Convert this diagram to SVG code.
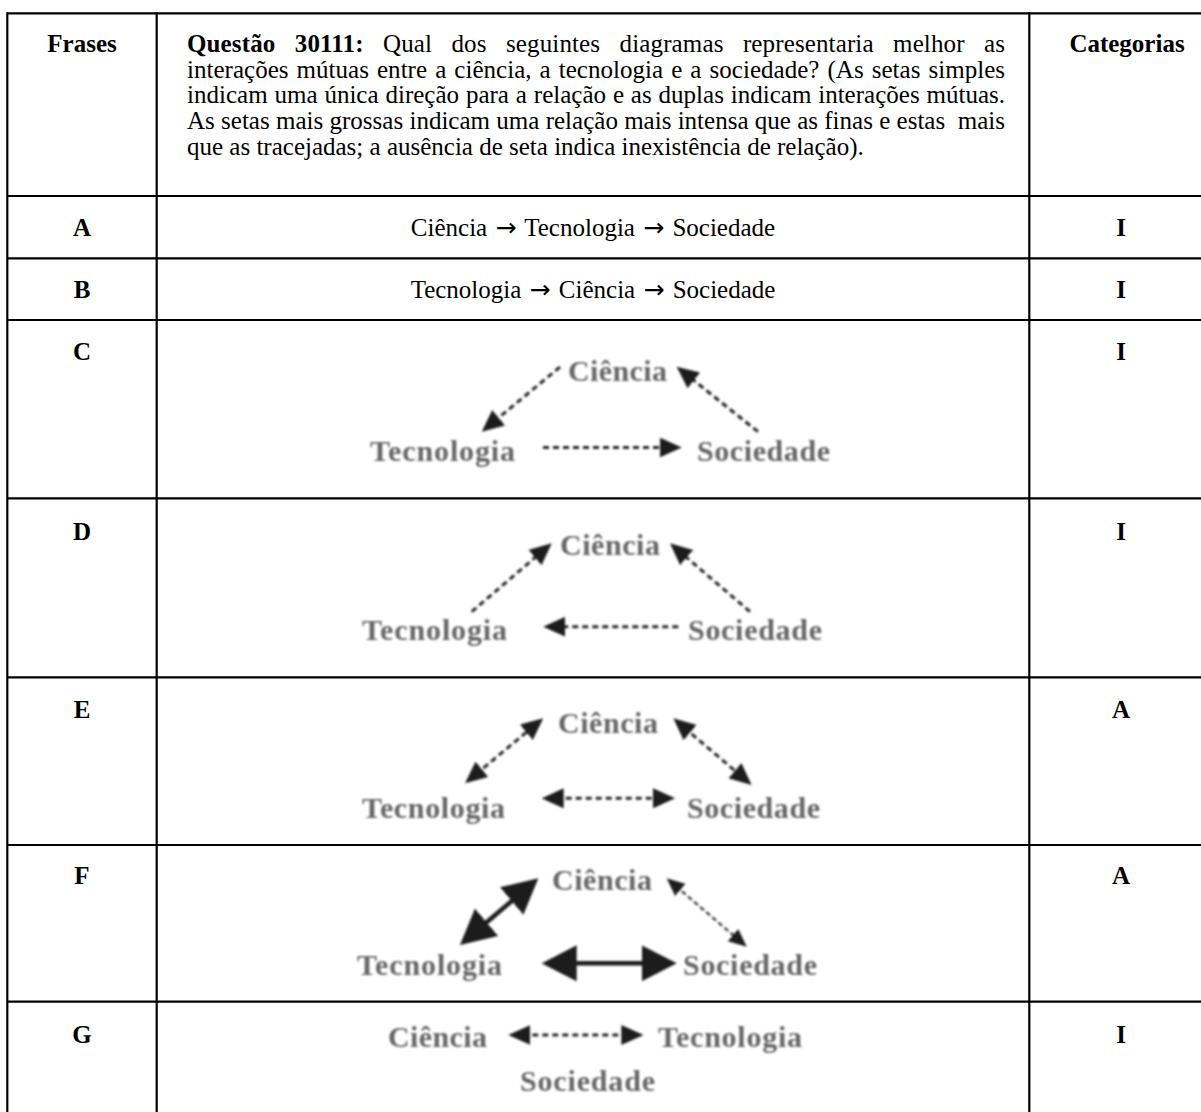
<svg xmlns="http://www.w3.org/2000/svg" width="1201" height="1112" viewBox="0 0 1201 1112">
<style>
.grid line{stroke:#000;stroke-width:2.2}
.t{font-family:"Liberation Serif","Times New Roman",serif;font-size:25px;fill:#000}
.b{font-weight:bold}
.m{text-anchor:middle}
.ar{font-family:"DejaVu Sans",sans-serif;font-size:25px}
.d{font-family:"Liberation Serif","Times New Roman",serif;font-weight:bold;font-size:30px;fill:#666;filter:url(#soft)}
.ds{stroke:#2a2a2a;stroke-width:3;stroke-dasharray:6 4;fill:none;filter:url(#soft)}
.dt{stroke:#2a2a2a;stroke-width:2;stroke-dasharray:5 3;fill:none;filter:url(#soft)}
.th{stroke:#1a1a1a;stroke-width:4.5;fill:none;filter:url(#soft)}
</style>
<defs>
<filter id="soft" filterUnits="userSpaceOnUse" x="0" y="0" width="1201" height="1112"><feGaussianBlur stdDeviation="0.8"/></filter>
<marker id="ah" markerUnits="userSpaceOnUse" viewBox="0 0 22 20" markerWidth="22" markerHeight="20" refX="8" refY="10" orient="auto-start-reverse"><path d="M0,0 L22,10 L0,20 z" fill="#1e1e1e"/></marker>
<marker id="ahS" markerUnits="userSpaceOnUse" viewBox="0 0 18 16" markerWidth="18" markerHeight="16" refX="6" refY="8" orient="auto-start-reverse"><path d="M0,0 L18,8 L0,16 z" fill="#1e1e1e"/></marker>
<marker id="ahB" markerUnits="userSpaceOnUse" viewBox="0 0 35 36" markerWidth="35" markerHeight="36" refX="15" refY="18" orient="auto-start-reverse"><path d="M0,0 L35,18 L0,36 z" fill="#1a1a1a"/></marker>
</defs>
<rect width="1201" height="1112" fill="#fff"/>
<g id="grid" class="grid">
<line x1="7.3" y1="13.3" x2="1201" y2="13.3"/>
<line x1="7.3" y1="196" x2="1201" y2="196"/>
<line x1="7.3" y1="258.3" x2="1201" y2="258.3"/>
<line x1="7.3" y1="320" x2="1201" y2="320"/>
<line x1="7.3" y1="498.3" x2="1201" y2="498.3"/>
<line x1="7.3" y1="677.3" x2="1201" y2="677.3"/>
<line x1="7.3" y1="845" x2="1201" y2="845"/>
<line x1="7.3" y1="1001.7" x2="1201" y2="1001.7"/>
<line x1="7.3" y1="12.2" x2="7.3" y2="1112"/>
<line x1="156.7" y1="12.2" x2="156.7" y2="1112"/>
<line x1="1029.3" y1="12.2" x2="1029.3" y2="1112"/>
</g>
<g id="header">
<text class="t b m" x="82" y="52">Frases</text>
<text class="t" x="187" y="52" word-spacing="13" textLength="818" lengthAdjust="spacing"><tspan class="b">Questão 30111:</tspan> Qual dos seguintes diagramas representaria melhor as</text>
<text class="t" x="187" y="77.7" word-spacing="1.8" textLength="818" lengthAdjust="spacing">interações mútuas entre a ciência, a tecnologia e a sociedade? (As setas simples</text>
<text class="t" x="187" y="103.4" word-spacing="0.6" textLength="818" lengthAdjust="spacing">indicam uma única direção para a relação e as duplas indicam interações mútuas.</text>
<text class="t" x="187" y="129.1" xml:space="preserve" textLength="818" lengthAdjust="spacing">As setas mais grossas indicam uma relação mais intensa que as finas e estas  mais</text>
<text class="t" x="187" y="154.8">que as tracejadas; a ausência de seta indica inexistência de relação).</text>
<text class="t b m" x="1127" y="52">Categorias</text>
</g>
<g id="row-A">
<text class="t b m" x="82" y="236">A</text>
<text class="t m" x="593" y="236" word-spacing="2">Ciência <tspan class="ar">→</tspan> Tecnologia <tspan class="ar">→</tspan> Sociedade</text>
<text class="t b m" x="1121" y="236">I</text>
</g>
<g id="row-B">
<text class="t b m" x="82" y="298">B</text>
<text class="t m" x="593" y="298" word-spacing="2">Tecnologia <tspan class="ar">→</tspan> Ciência <tspan class="ar">→</tspan> Sociedade</text>
<text class="t b m" x="1121" y="298">I</text>
</g>
<g id="row-C">
<text class="t b m" x="82" y="360">C</text>
<text class="t b m" x="1121" y="360">I</text>
<g id="C-ciencia"><text class="d" x="568" y="381" textLength="99">Ciência</text></g>
<g id="C-tecnologia"><text class="d" x="370" y="461" textLength="145">Tecnologia</text></g>
<g id="C-sociedade"><text class="d" x="697" y="461" textLength="133">Sociedade</text></g>
</g>
<g id="row-D">
<text class="t b m" x="82" y="540">D</text>
<text class="t b m" x="1121" y="540">I</text>
<g id="D-ciencia"><text class="d" x="560" y="555" textLength="100">Ciência</text></g>
<g id="D-tecnologia"><text class="d" x="362" y="640" textLength="145">Tecnologia</text></g>
<g id="D-sociedade"><text class="d" x="688" y="640" textLength="134">Sociedade</text></g>
</g>
<g id="row-E">
<text class="t b m" x="82" y="718">E</text>
<text class="t b m" x="1121" y="718">A</text>
<g id="E-ciencia"><text class="d" x="558" y="733" textLength="100">Ciência</text></g>
<g id="E-tecnologia"><text class="d" x="362" y="818" textLength="143">Tecnologia</text></g>
<g id="E-sociedade"><text class="d" x="687" y="818" textLength="133">Sociedade</text></g>
</g>
<g id="row-F">
<text class="t b m" x="82" y="884">F</text>
<text class="t b m" x="1121" y="884">A</text>
<g id="F-ciencia"><text class="d" x="552" y="890" textLength="100">Ciência</text></g>
<g id="F-tecnologia"><text class="d" x="357" y="975" textLength="145">Tecnologia</text></g>
<g id="F-sociedade"><text class="d" x="683" y="975" textLength="134">Sociedade</text></g>
</g>
<g id="row-G">
<text class="t b m" x="82" y="1043">G</text>
<text class="t b m" x="1121" y="1043">I</text>
<g id="G-ciencia"><text class="d" x="388" y="1047" textLength="99">Ciência</text></g>
<g id="G-tecnologia"><text class="d" x="658" y="1047" textLength="144">Tecnologia</text></g>
<g id="G-sociedade"><text class="d" x="520" y="1091" textLength="135">Sociedade</text></g>
</g>
<g id="connectors">
<line class="ds" x1="560" y1="367" x2="492.5" y2="422.8" marker-end="url(#ah)"/>
<line class="ds" x1="758" y1="431.7" x2="687.6" y2="375.4" marker-end="url(#ah)"/>
<line class="ds" x1="543" y1="447.5" x2="667.7" y2="447.5" marker-end="url(#ah)"/>
<line class="ds" x1="471.7" y1="611.7" x2="541.1" y2="552.4" marker-end="url(#ah)"/>
<line class="ds" x1="750" y1="611.7" x2="680.6" y2="552.4" marker-end="url(#ah)"/>
<line class="ds" x1="678.3" y1="626.7" x2="557.3" y2="626.7" marker-end="url(#ah)"/>
<line class="ds" x1="475.8" y1="774.4" x2="532.5" y2="727.2" marker-start="url(#ah)" marker-end="url(#ah)"/>
<line class="ds" x1="684" y1="727.4" x2="741" y2="775.9" marker-start="url(#ah)" marker-end="url(#ah)"/>
<line class="ds" x1="555.7" y1="798.3" x2="661" y2="798.3" marker-start="url(#ah)" marker-end="url(#ah)"/>
<line class="th" x1="475.2" y1="932" x2="523.1" y2="891.3" marker-start="url(#ahB)" marker-end="url(#ahB)"/>
<line class="dt" x1="675.8" y1="886.1" x2="737.6" y2="938.9" marker-start="url(#ahS)" marker-end="url(#ahS)"/>
<line class="th" x1="561.7" y1="963.3" x2="656.7" y2="963.3" marker-start="url(#ahB)" marker-end="url(#ahB)"/>
<line class="ds" x1="522.3" y1="1035" x2="629.3" y2="1035" marker-start="url(#ah)" marker-end="url(#ah)"/>
</g>
</svg>
